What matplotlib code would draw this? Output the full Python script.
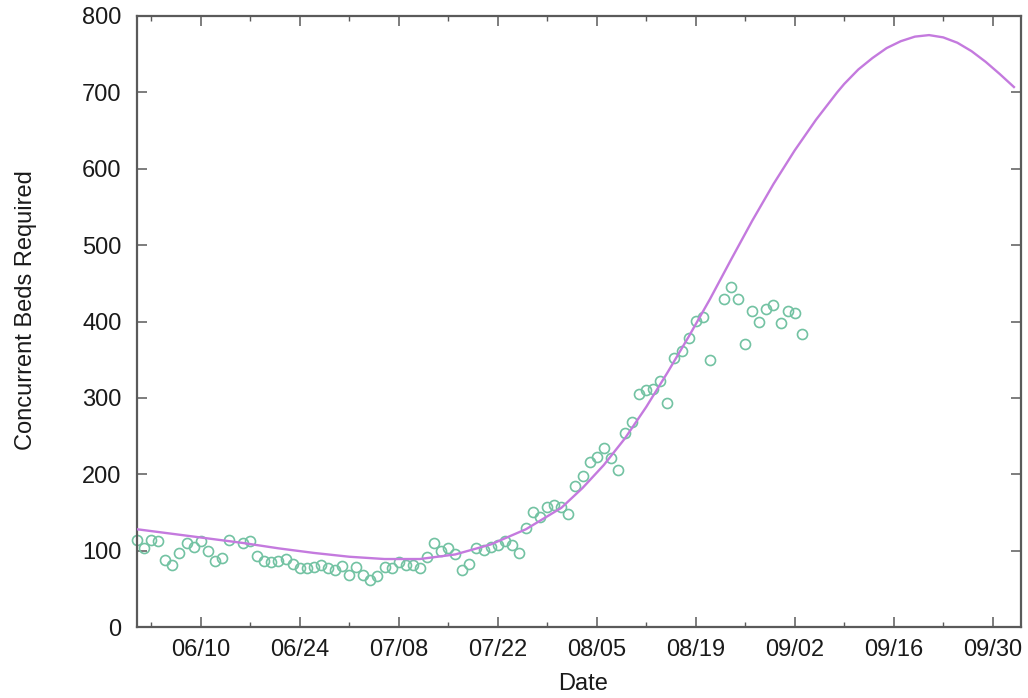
import matplotlib
matplotlib.use('Agg')
import matplotlib.pyplot as plt
import numpy as np
import pandas as pd

start = pd.Timestamp('2020-06-01')

# observed concurrent beds (day offset from 06/01)
obs_day = list(range(0, 14)) + list(range(15, 82)) + list(range(83, 95))
obs_beds = [114, 103, 114, 113, 88, 81, 97, 110, 105, 112, 99, 86, 90, 114,
            110, 112, 93, 86, 85, 87, 89, 82, 77, 77,
            78, 81, 77, 75, 80, 68, 79, 68, 62, 67,
            79, 77, 85, 81, 81, 77, 91, 110, 99, 103,
            96, 75, 83, 103, 101, 105, 107, 112, 107, 97,
            129, 150, 144, 157, 160, 157, 148, 184, 198, 216,
            222, 235, 221, 205, 254, 269, 305, 310, 312, 322,
            293, 352, 362, 379, 401, 406, 349,
            430, 445, 430, 371, 414, 400, 417, 422, 398, 414, 411, 383]

# model curve
fit_day = [0, 5, 10, 15, 20, 25, 30, 35, 40, 45, 50, 55, 60, 63, 66, 69, 72, 75,
           78, 81, 84, 87, 90, 93, 96, 99, 100, 102, 104, 106, 108, 110, 112, 114,
           116, 118, 120, 122, 124]
fit_beds = [128, 122, 116, 110, 103, 97, 92, 89, 89, 95, 108, 128, 156, 182, 212,
            247, 288, 333, 380, 429, 481, 532, 580, 624, 664, 700, 711, 730, 745,
            758, 767, 773, 775, 772, 765, 754, 740, 724, 707]

tick_labels = ['06/10', '06/24', '07/08', '07/22', '08/05', '08/19', '09/02', '09/16', '09/30']
y_ticks = [0, 100, 200, 300, 400, 500, 600, 700, 800]

obs_dates = start + pd.to_timedelta(obs_day, unit='D')
fit_dates = start + pd.to_timedelta(fit_day, unit='D')
major = [pd.Timestamp('2020/' + t) for t in tick_labels]
minor = [m - pd.Timedelta(days=7) for m in major]

plt.rcParams['font.family'] = ['Liberation Sans', 'DejaVu Sans']

fig = plt.figure(figsize=(10.28, 6.98), dpi=100)
ax = fig.add_axes([137/1028, 1 - 627/698, 884/1028, 611/698])

ax.plot(obs_dates, obs_beds, linestyle='none', marker='o', markersize=7.2,
        markerfacecolor='none', markeredgecolor='#72c2a2', markeredgewidth=1.2,
        clip_on=False, zorder=2)
ax.plot(fit_dates, fit_beds, color='#c47ade', linewidth=1.7, zorder=3,
        solid_joinstyle='round')

ax.set_xlim(start, start + pd.Timedelta(days=125))
ax.set_ylim(0, 800)
ax.set_xticks(major)
ax.set_xticklabels(tick_labels)
ax.set_xticks(minor, minor=True)
ax.set_yticks(y_ticks)

for s in ax.spines.values():
    s.set_color('#5a5a5a')
    s.set_linewidth(1.6)

ax.tick_params(axis='both', which='both', direction='in', top=True, right=True,
               colors='#5a5a5a', labelcolor='#1a1a1a', labelsize=17)
ax.tick_params(axis='both', which='major', length=7, width=1.1)
ax.tick_params(axis='both', which='minor', length=3.5, width=1.0)
ax.tick_params(axis='x', which='major', pad=9)
ax.tick_params(axis='y', which='major', pad=11)

ax.set_xlabel('Date', fontsize=17, color='#1a1a1a')
ax.xaxis.set_label_coords(0.5045, -0.075)
fig.text(26/1028, 1 - 310/698, 'Concurrent Beds Required', rotation=90,
         ha='center', va='center', fontsize=17, color='#1a1a1a')

fig.savefig('out.png', dpi=100)
